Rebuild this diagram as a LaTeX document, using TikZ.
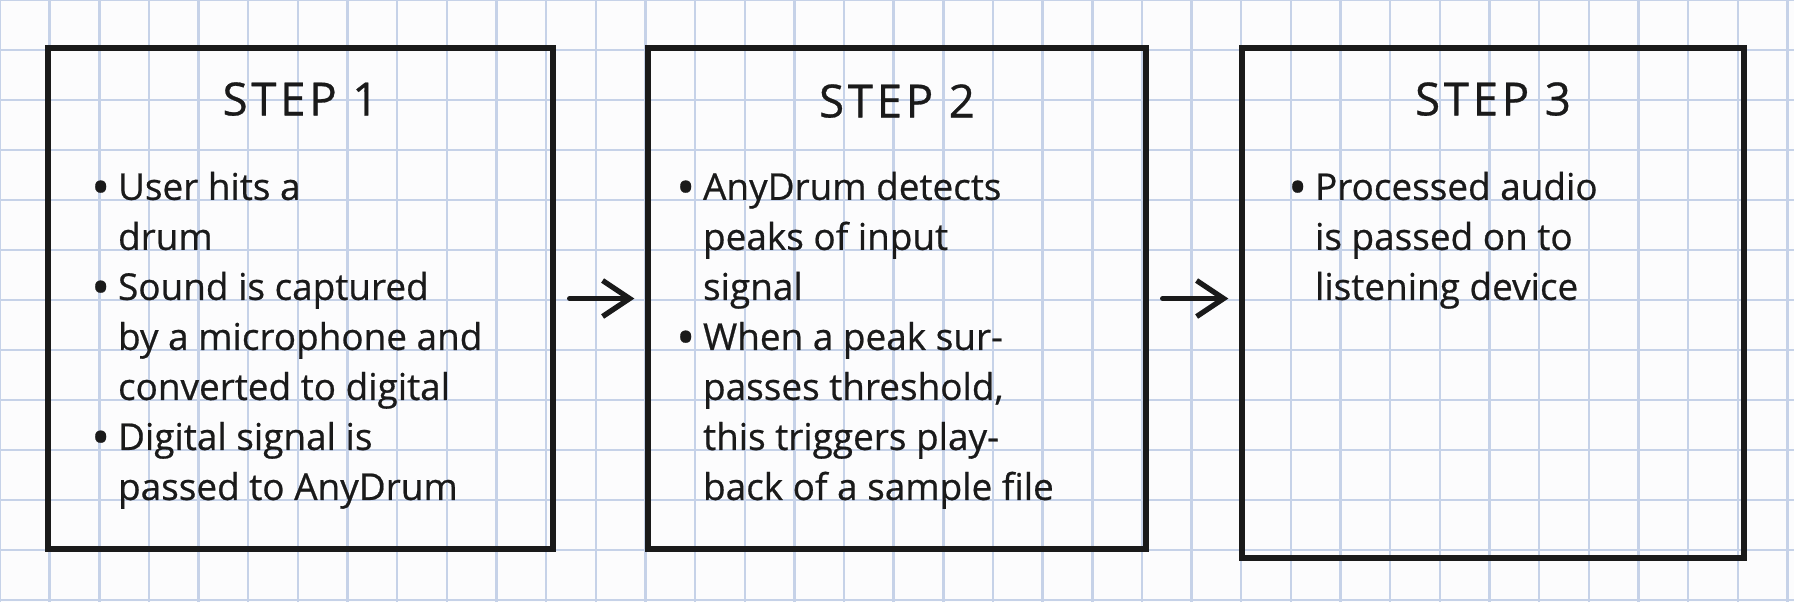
\documentclass[tikz,border=0pt]{standalone}
\usepackage{fontspec}
\usepackage{graphicx}
\setmainfont[FakeBold=0.6]{Open Sans}
\newfontfamily\titlefont[LetterSpace=8,FakeBold=0.6]{Open Sans}
\usetikzlibrary{arrows.meta}

\definecolor{paper}{RGB}{252,252,253}
\definecolor{gridblue}{RGB}{198,210,232}
\definecolor{ink}{RGB}{26,26,26}
\newcommand{\bul}{\llap{\raisebox{-0.25ex}{\scalebox{1.35}{\textbullet}}\hspace{0.08cm}}}

\tikzset{
  gridline/.style={gridblue, line width=0.7pt},
  stepbox/.style={draw=ink, line width=1.5pt, minimum height=5.01cm, inner sep=0pt},
  steptitle/.style={ink, anchor=base, inner sep=0pt, font=\titlefont\fontsize{13}{15}\selectfont},
  stepbody/.style={ink, anchor=base west, inner sep=0pt, font=\fontsize{10.5}{14.23}\selectfont},
  steparrow/.style={draw=ink, line width=1.5pt, line cap=round,
     -{Straight Barb[length=0.27cm,width=0.36cm]}, shorten <=0.14cm, shorten >=0.11cm},
}

\begin{document}
\begin{tikzpicture}
  \useasboundingbox (0,0) rectangle (17.94,6.02);
  \fill[paper] (0,0) rectangle (17.94,6.02);
  % graph paper
  \foreach \k in {0,...,36} \draw[gridline] (\k*0.4965,0) -- (\k*0.4965,6.02);
  \foreach \k in {0,...,12} \draw[gridline] (0,6.02-\k*0.5) -- (17.94,6.02-\k*0.5);

  % the three steps
  \node[stepbox, minimum width=5.05cm] (s1) at (3.005,3.035) {};
  \node[stepbox, minimum width=4.98cm] (s2) at (8.97,3.035) {};
  \node[stepbox, minimum width=5.02cm, minimum height=5.10cm] (s3) at (14.93,2.99) {};

  \node[steptitle] (t1) at ([yshift=-0.70cm]s1.north) {STEP 1};
  \node[steptitle] (t2) at ([yshift=-0.72cm]s2.north) {STEP 2};
  \node[steptitle] (t3) at ([yshift=-0.70cm]s3.north) {STEP 3};

  \node[stepbody] (b1) at ([xshift=0.72cm,yshift=-1.545cm]s1.north west) {%
    \begin{tabular}[t]{@{}l@{}}
      \bul User hits a\\ drum\\ \bul Sound is captured\\ by a microphone and\\
      converted to digital\\ \bul Digital signal is\\ passed to AnyDrum
    \end{tabular}};
  \node[stepbody] (b2) at ([xshift=0.57cm,yshift=-1.545cm]s2.north west) {%
    \begin{tabular}[t]{@{}l@{}}
      \bul AnyDrum detects\\ peaks of input\\ signal\\ \bul When a peak sur-\\
      passes threshold,\\ this triggers play-\\ back of a sample file
    \end{tabular}};
  \node[stepbody] (b3) at ([xshift=0.75cm,yshift=-1.545cm]s3.north west) {%
    \begin{tabular}[t]{@{}l@{}}
      \bul Processed audio\\ is passed on to\\ listening device
    \end{tabular}};

  % flow
  \draw[steparrow] (s1.east) -- (s2.west);
  \draw[steparrow] (s2.east) -- (s2.east -| s3.west);
\end{tikzpicture}
\end{document}
